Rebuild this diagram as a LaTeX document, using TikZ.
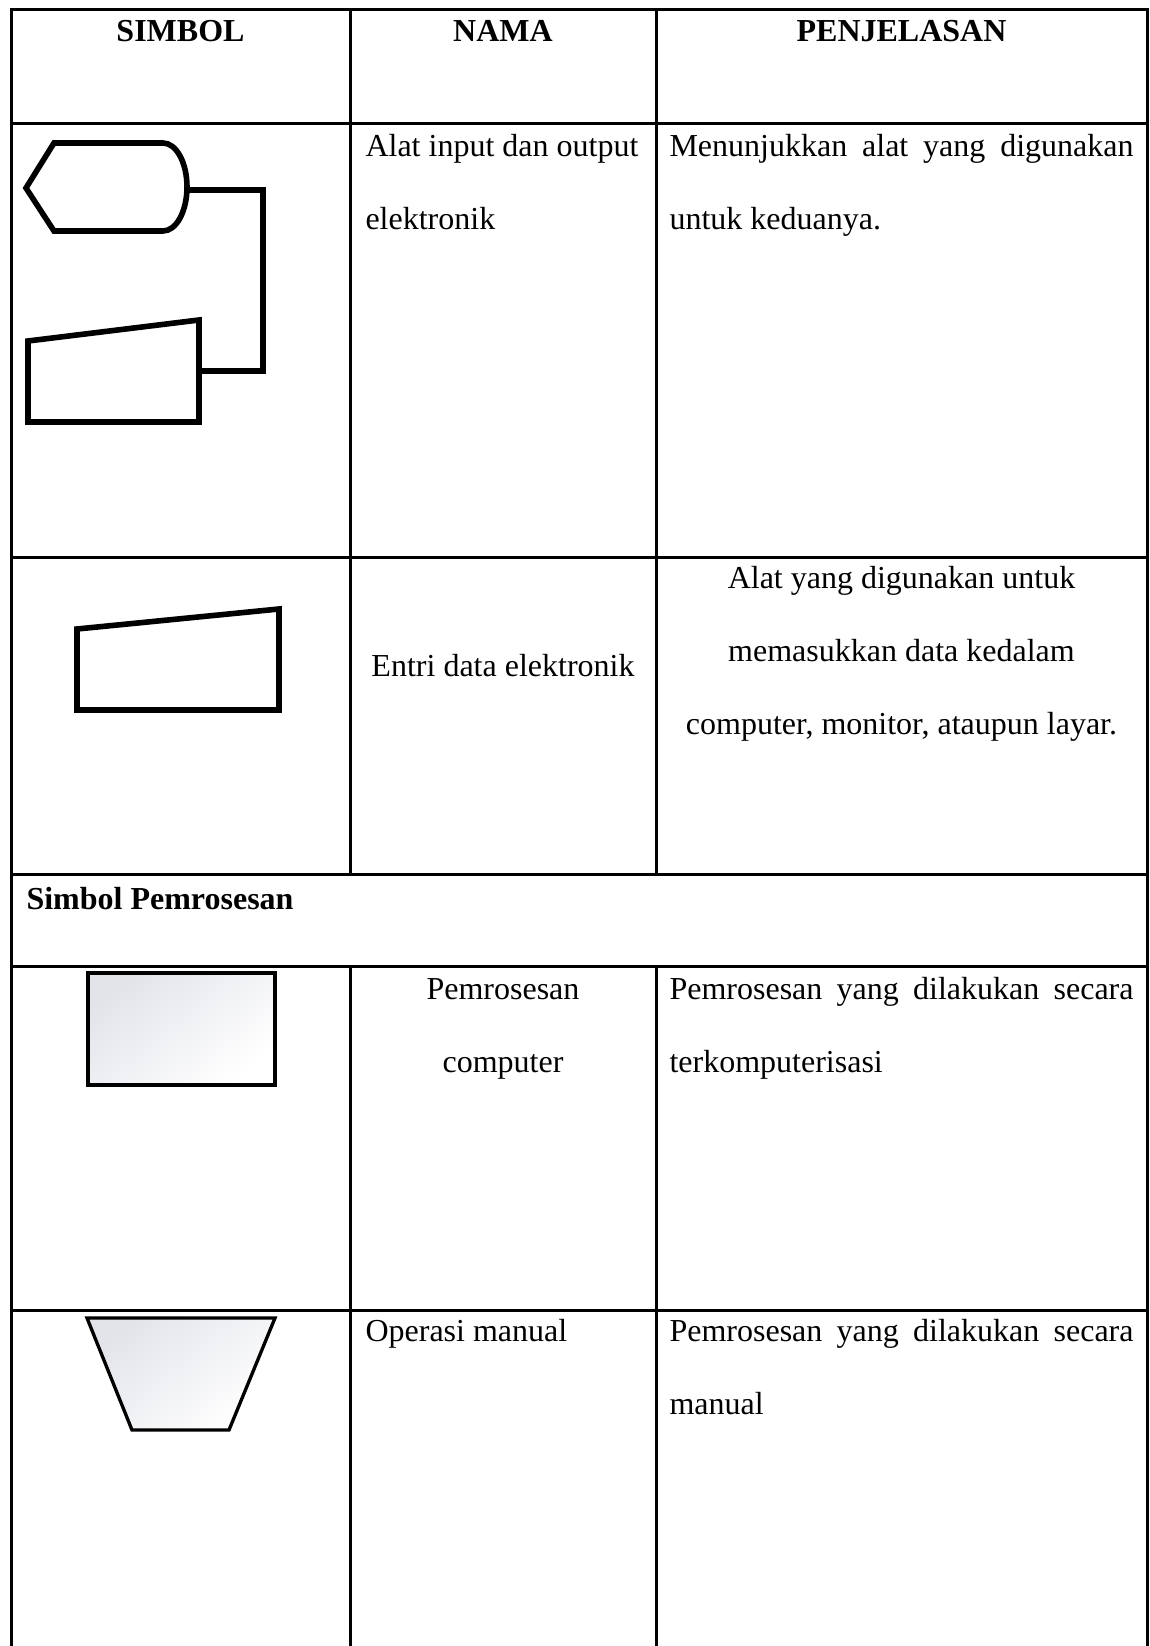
\documentclass[tikz,border=0pt]{standalone}
\usepackage{fontspec}
\setmainfont{Liberation Serif}
\newdimen\pxu
\pxu=0.375pt
\definecolor{shadeA}{RGB}{226,228,234}
\definecolor{shadeB}{RGB}{247,248,250}
\begin{document}
\begin{tikzpicture}[x=0.375pt, y=-0.375pt,
  rule/.style={line width=1.125pt, line cap=rect},
  heavy/.style={line width=2.1pt, line join=miter},
  light/.style={line width=1.25pt, line join=miter, draw=black,
    top color=shadeA, middle color=shadeB, bottom color=white, shading angle=40},
  txt/.style={inner sep=0pt, font=\fontsize{12}{14}\selectfont},
  hd/.style={inner sep=0pt, font=\fontsize{12}{14}\selectfont\bfseries}]
\useasboundingbox (0,0) rectangle (1149,1646);
\fill[white] (0,0) rectangle (1149,1646);

% table rules
\draw[rule] (11,1646) -- (11,10) -- (1147,10) -- (1147,1646);
\foreach \y in {124,557,874,966,1310}
  \draw[rule] (11,\y) -- (1147,\y);
\foreach \x in {350,656} {
  \draw[rule] (\x,10) -- (\x,874);
  \draw[rule] (\x,966) -- (\x,1646);
}

% header
\node[hd, anchor=base] (h-simbol) at (180.5,42) {SIMBOL};
\node[hd, anchor=base] (h-nama) at (503,42) {NAMA};
\node[hd, anchor=base] (h-penj) at (901.5,42) {PENJELASAN};

% row 1: display + manual input, linked
\draw[heavy] (163,143) .. controls (176.3,143) and (187,162.7) .. (187,187)
  .. controls (187,211.3) and (176.3,231) .. (163,231)
  -- (54,231) -- (26,188) -- (54,143) -- cycle;
\draw[heavy] (28,341) -- (199,320) -- (199,422) -- (28,422) -- cycle;
\coordinate (disp-e) at (187,190);
\coordinate (kb-e) at (199,371);
\draw[heavy] (disp-e) -- ++(76,0) |- (kb-e);

\node[txt, anchor=base west] (n1a) at (365,157) {Alat input dan output};
\node[txt, anchor=base west] (n1b) at (365,230) {elektronik};
\node[txt, anchor=base west] (d1a) at (669,157) {\makebox[464\pxu][s]{Menunjukkan alat yang digunakan}};
\node[txt, anchor=base west] (d1b) at (669,230) {untuk keduanya.};

% row 2: online keyboard
\draw[heavy] (77,629) -- (279,609) -- (279,710) -- (77,710) -- cycle;
\node[txt, anchor=base] (n2) at (503,676) {Entri data elektronik};
\node[txt, anchor=base] (d2a) at (901.5,588) {Alat yang digunakan untuk};
\node[txt, anchor=base] (d2b) at (901.5,661) {memasukkan data kedalam};
\node[txt, anchor=base] (d2c) at (901.5,734) {computer, monitor, ataupun layar.};

% section heading
\node[hd, anchor=base west] (sec) at (26,909) {Simbol Pemrosesan};

% row 3: computer process
\draw[light] (88,973) rectangle (275,1085);
\node[txt, anchor=base] (n3a) at (503,999) {Pemrosesan};
\node[txt, anchor=base] (n3b) at (503,1072) {computer};
\node[txt, anchor=base west] (d3a) at (669,999) {\makebox[464\pxu][s]{Pemrosesan yang dilakukan secara}};
\node[txt, anchor=base west] (d3b) at (669,1072) {terkomputerisasi};

% row 4: manual operation
\draw[light] (87,1318) -- (275,1318) -- (229,1430) -- (132,1430) -- cycle;
\node[txt, anchor=base west] (n4) at (365,1341) {Operasi manual};
\node[txt, anchor=base west] (d4a) at (669,1341) {\makebox[464\pxu][s]{Pemrosesan yang dilakukan secara}};
\node[txt, anchor=base west] (d4b) at (669,1414) {manual};
\end{tikzpicture}
\end{document}
